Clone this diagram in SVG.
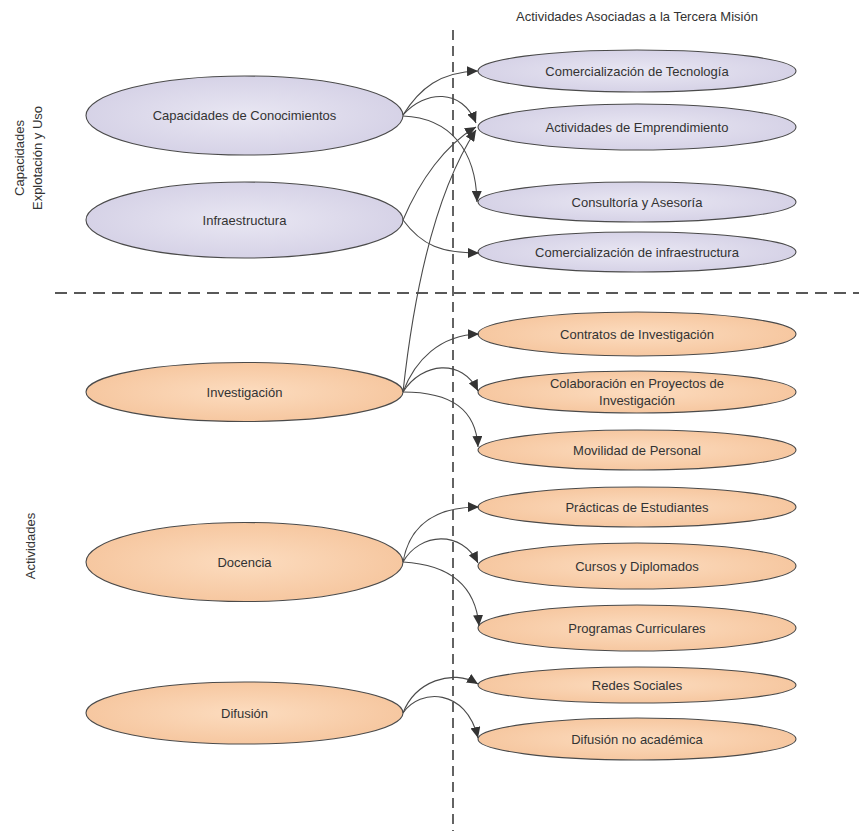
<svg xmlns="http://www.w3.org/2000/svg" width="859" height="831" viewBox="0 0 859 831">
<defs>
<radialGradient id="gLav" cx="0.5" cy="0.5" r="0.6">
<stop offset="0" stop-color="#e9e7f3"/>
<stop offset="1" stop-color="#d2cee4"/>
</radialGradient>
<radialGradient id="gOr" cx="0.5" cy="0.5" r="0.6">
<stop offset="0" stop-color="#fcdcbf"/>
<stop offset="1" stop-color="#f5c39a"/>
</radialGradient>
<marker id="arr" markerUnits="userSpaceOnUse" markerWidth="12" markerHeight="10" refX="11" refY="5" orient="auto">
<path d="M0,0 L11,5 L0,10 Z" fill="#333"/>
</marker>
</defs>
<style>
.lav{fill:url(#gLav);stroke:#4a4a4a;stroke-width:1.1}
.or{fill:url(#gOr);stroke:#4a4a4a;stroke-width:1.1}
text{font-family:"Liberation Sans",Arial,sans-serif;font-size:13px;fill:#333;text-anchor:middle}
.c{fill:none;stroke:#4a4a4a;stroke-width:1.1;marker-end:url(#arr)}
.d{fill:none;stroke:#222;stroke-width:1.4}
</style>
<rect width="859" height="831" fill="#fff"/>

<g id="guides">
<line class="d" x1="453" y1="30" x2="453" y2="831" stroke-dasharray="10,6"/>
<line class="d" x1="55" y1="293" x2="859" y2="293" stroke-dasharray="12,7"/>
</g>

<g id="labels">
<text x="637" y="21" font-size="12">Actividades Asociadas a la Tercera Misión</text>
<text transform="translate(24,158) rotate(-90)">Capacidades</text>
<text transform="translate(42,158) rotate(-90)">Explotación y Uso</text>
<text transform="translate(35,546) rotate(-90)">Actividades</text>
</g>

<g id="n-capacidades"><ellipse class="lav" cx="244.5" cy="115.5" rx="158.5" ry="39.5"/><text x="244.5" y="120">Capacidades de Conocimientos</text></g>
<g id="n-infraestructura"><ellipse class="lav" cx="244.5" cy="220" rx="158.5" ry="38"/><text x="244.5" y="225">Infraestructura</text></g>
<g id="n-investigacion"><ellipse class="or" cx="244.5" cy="392" rx="158.5" ry="29.5"/><text x="244.5" y="397">Investigación</text></g>
<g id="n-docencia"><ellipse class="or" cx="244.5" cy="562" rx="158.5" ry="39.5"/><text x="244.5" y="567">Docencia</text></g>
<g id="n-difusion"><ellipse class="or" cx="244.5" cy="713" rx="158.5" ry="31"/><text x="244.5" y="718">Difusión</text></g>

<g id="n-comtec"><ellipse class="lav" cx="637" cy="71" rx="159" ry="21"/><text x="637" y="76">Comercialización de Tecnología</text></g>
<g id="n-emprend"><ellipse class="lav" cx="637" cy="127" rx="159" ry="23"/><text x="637" y="132">Actividades de Emprendimiento</text></g>
<g id="n-consult"><ellipse class="lav" cx="637" cy="202" rx="159" ry="20"/><text x="637" y="207">Consultoría y Asesoría</text></g>
<g id="n-cominf"><ellipse class="lav" cx="637" cy="252" rx="159" ry="20"/><text x="637" y="257">Comercialización de infraestructura</text></g>
<g id="n-contratos"><ellipse class="or" cx="637" cy="334" rx="159" ry="22"/><text x="637" y="339">Contratos de Investigación</text></g>
<g id="n-colab"><ellipse class="or" cx="637" cy="392" rx="159" ry="21"/><text x="637" y="388">Colaboración en Proyectos de</text><text x="637" y="405">Investigación</text></g>
<g id="n-movilidad"><ellipse class="or" cx="637" cy="450" rx="159" ry="20"/><text x="637" y="455">Movilidad de Personal</text></g>
<g id="n-practicas"><ellipse class="or" cx="637" cy="507" rx="159" ry="20"/><text x="637" y="512">Prácticas de Estudiantes</text></g>
<g id="n-cursos"><ellipse class="or" cx="637" cy="566" rx="159" ry="23"/><text x="637" y="571">Cursos y Diplomados</text></g>
<g id="n-programas"><ellipse class="or" cx="637" cy="628" rx="159" ry="23"/><text x="637" y="633">Programas Curriculares</text></g>
<g id="n-redes"><ellipse class="or" cx="637" cy="685" rx="159" ry="18"/><text x="637" y="690">Redes Sociales</text></g>
<g id="n-difnoac"><ellipse class="or" cx="637" cy="739" rx="159" ry="21"/><text x="637" y="744">Difusión no académica</text></g>

<g id="connectors">
<path class="c" d="M403,115 C420,88 440,72 478,71"/>
<path class="c" d="M403,115 C425,90 462,88 476,123"/>
<path class="c" d="M403,116 C450,118 476,150 477,202"/>
<path class="c" d="M403,220 C420,180 445,145 476,127"/>
<path class="c" d="M403,220 C422,246 442,253 479,253"/>
<path class="c" d="M403,392 C412,310 430,200 476,130"/>
<path class="c" d="M403,392 C415,360 440,335 479,334"/>
<path class="c" d="M403,392 C422,362 462,358 478,391"/>
<path class="c" d="M403,392 C452,392 476,410 478,447"/>
<path class="c" d="M403,562 C410,522 440,507 479,507"/>
<path class="c" d="M403,562 C420,532 462,530 478,563"/>
<path class="c" d="M403,562 C455,565 476,590 479,626"/>
<path class="c" d="M403,713 C415,682 452,668 478,684"/>
<path class="c" d="M403,713 C420,688 466,688 478,738"/>
</g>
</svg>
